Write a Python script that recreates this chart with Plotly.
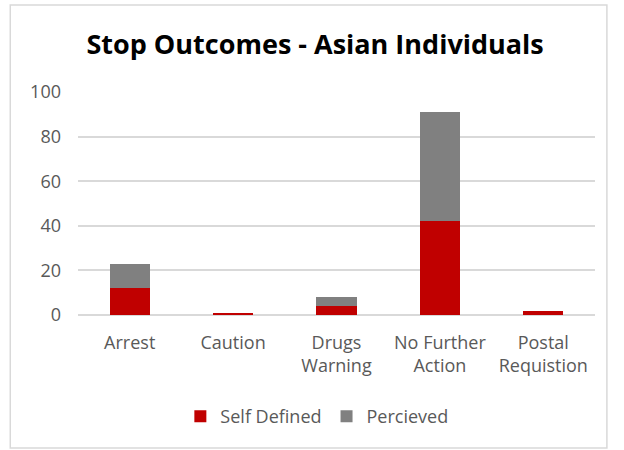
import plotly.graph_objects as go

categories = ["Arrest", "Caution", "Drugs<br>Warning", "No Further<br>Action", "Postal<br>Requistion"]
self_defined = [12, 1, 4, 42, 2]
percieved = [11, 0, 4, 49, 0]
y_ticks = [0, 20, 40, 60, 80, 100]

RED = "#C00000"
GREY = "#808080"
TEXT = "#595959"
GRID = "#D9D9D9"
FONT = "Open Sans"

fig = go.Figure()
fig.add_trace(go.Bar(name="Self Defined", x=categories, y=self_defined,
                     marker=dict(color=RED, line=dict(width=0))))
fig.add_trace(go.Bar(name="Percieved", x=categories, y=percieved,
                     marker=dict(color=GREY, line=dict(width=0))))

fig.update_layout(
    barmode="stack",
    bargap=0.61,
    width=624, height=450,
    margin=dict(l=78, r=29, t=92, b=135),
    paper_bgcolor="white",
    plot_bgcolor="white",
    font=dict(family=FONT, size=18, color=TEXT),
    title=dict(text="<b>Stop Outcomes - Asian Individuals</b>",
               x=0.505, xanchor="center", y=0.9, yanchor="middle",
               font=dict(family=FONT, size=27, color="#000000")),
    legend=dict(orientation="h", x=0.462, xanchor="center", y=-0.455, yanchor="middle",
                font=dict(family=FONT, size=18, color=TEXT),
                itemwidth=30, traceorder="normal"),
    xaxis=dict(showgrid=False, showline=False, ticks="", ticklabelstandoff=15,
               tickfont=dict(size=18, color=TEXT)),
    yaxis=dict(range=[0, 100], tickvals=y_ticks, showgrid=True, gridcolor=GRID, gridwidth=1.5,
               zeroline=True, zerolinecolor=GRID, zerolinewidth=1.5,
               ticks="", ticklabelstandoff=16, tickfont=dict(size=18, color=TEXT)),
    shapes=[dict(type="rect", xref="paper", yref="paper",
                 x0=-0.131, x1=1.023, y0=-0.596, y1=1.39,
                 line=dict(color=GRID, width=1.5), fillcolor="rgba(0,0,0,0)", layer="below")],
)

fig.write_html("out.html")
